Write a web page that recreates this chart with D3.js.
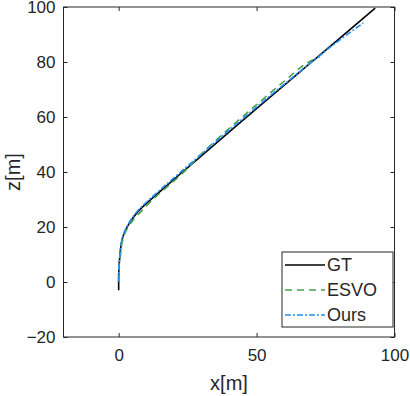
<!DOCTYPE html>
<html>
<head>
<meta charset="utf-8">
<script src="https://cdn.jsdelivr.net/npm/d3@7"></script>
<style>
  body { margin: 0; background: #fff; }
  text { font-family: "Liberation Sans", Arial, sans-serif; fill: #262626; }
</style>
</head>
<body>
<div id="chart"></div>
<script>
// tracce (x, z) in metri
var gtX   = [0, 0, 0.02, 0.1, 0.3, 1, 2, 4, 7, 11, 16, 22, 30, 40, 55, 70, 85, 93];
var gtZ   = [-3, 0, 3, 5.5, 7.9, 14.2, 17.8, 21.6, 25.6, 29.4, 33.8, 39.0, 45.9, 54.5, 67.3, 80.05, 92.8, 99.6];
var esvoX = [0, 0.03, 0.15, 0.45, 1.3, 2.5, 4.8, 8, 12, 17, 23, 30, 40, 50, 60, 68, 73];
var esvoZ = [0, 3, 5.5, 7.8, 14.6, 18.2, 22.0, 25.5, 29.6, 34.1, 39.4, 46.6, 55.8, 64.5, 73.0, 79.5, 82.0];
var oursX = [0, 0.02, 0.1, 0.3, 1, 2, 4, 7, 11, 16, 22, 30, 40, 55, 70, 80, 88.7];
var oursZ = [0, 3, 5.5, 8.0, 14.4, 18.0, 21.9, 26.0, 29.9, 34.4, 39.6, 46.5, 55.2, 67.8, 80.0, 87.9, 94.2];

var xTicks = [0, 50, 100];
var yTicks = [-20, 0, 20, 40, 60, 80, 100];
var names = ["GT", "ESVO", "Ours"];

var width = 410, height = 396;
var pL = 63.5, pR = 394.5, pT = 7, pB = 337;

var svg = d3.select("#chart").append("svg")
  .attr("width", width)
  .attr("height", height);

var x = d3.scaleLinear().domain([-20, 100]).range([pL, pR]);
var y = d3.scaleLinear().domain([-20, 100]).range([pB, pT]);

var axisColor = "#262626";

// assi con tacche interne
var gx = svg.append("g").attr("transform", `translate(0,${pB})`)
  .call(d3.axisBottom(x).tickValues(xTicks).tickSizeInner(-4).tickSizeOuter(0).tickPadding(12));
var gxt = svg.append("g").attr("transform", `translate(0,${pT})`)
  .call(d3.axisTop(x).tickValues(xTicks).tickSizeInner(-4).tickSizeOuter(0).tickFormat(""));
var gy = svg.append("g").attr("transform", `translate(${pL},0)`)
  .call(d3.axisLeft(y).tickValues(yTicks).tickSizeInner(-4).tickSizeOuter(0).tickPadding(8));
var gyr = svg.append("g").attr("transform", `translate(${pR},0)`)
  .call(d3.axisRight(y).tickValues(yTicks).tickSizeInner(-4).tickSizeOuter(0).tickFormat(""));

[gx, gxt, gy, gyr].forEach(g => {
  g.select(".domain").remove();
  g.selectAll("line").attr("stroke", axisColor);
  g.selectAll("text").style("font-size", "17px").attr("fill", axisColor)
    .style("font-family", "'Liberation Sans', Arial, sans-serif");
});
gx.selectAll("text").attr("dy", "0.71em");

svg.append("rect")
  .attr("x", pL).attr("y", pT)
  .attr("width", pR - pL).attr("height", pB - pT)
  .attr("fill", "none").attr("stroke", axisColor).attr("stroke-width", 1);

// etichette
svg.append("text")
  .attr("x", (pL + pR) / 2).attr("y", 390)
  .attr("text-anchor", "middle")
  .style("font-size", "20px")
  .text("x[m]");

svg.append("text")
  .attr("transform", `translate(20,${(pT + pB) / 2}) rotate(-90)`)
  .attr("text-anchor", "middle")
  .style("font-size", "20px")
  .text("z[m]");

// linee
var line = d3.line().x(d => x(d[0])).y(d => y(d[1])).curve(d3.curveCatmullRom);

var series = [
  { pts: d3.zip(gtX, gtZ), color: "#000000", dash: null },
  { pts: d3.zip(esvoX, esvoZ), color: "#4c9e4c", dash: "7,5" },
  { pts: d3.zip(oursX, oursZ), color: "#2090ff", dash: "6,2,2,2" }
];

var plot = svg.append("g");
series.forEach(s => {
  plot.append("path")
    .attr("d", line(s.pts))
    .attr("fill", "none")
    .attr("stroke", s.color)
    .attr("stroke-width", 1.6)
    .attr("stroke-dasharray", s.dash);
});

// legenda
var lg = svg.append("g");
lg.append("rect")
  .attr("x", 282).attr("y", 252)
  .attr("width", 111).attr("height", 75)
  .attr("fill", "#fff").attr("stroke", axisColor).attr("stroke-width", 1);

names.forEach((n, i) => {
  var ly = 265 + i * 25;
  lg.append("line")
    .attr("x1", 285).attr("x2", 325)
    .attr("y1", ly).attr("y2", ly)
    .attr("stroke", series[i].color)
    .attr("stroke-width", 1.6)
    .attr("stroke-dasharray", series[i].dash);
  lg.append("text")
    .attr("x", 327).attr("y", ly)
    .attr("dy", "0.36em")
    .style("font-size", "18px")
    .attr("fill", axisColor)
    .text(n);
});
</script>
</body>
</html>
